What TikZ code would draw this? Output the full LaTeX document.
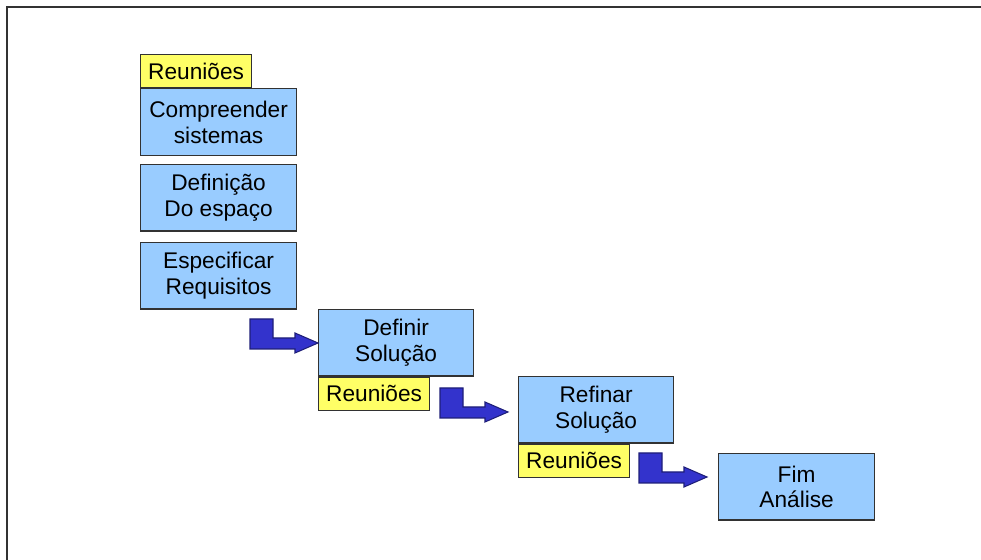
\documentclass[tikz,border=0pt]{standalone}
\usepackage{fontspec}
\setmainfont{Liberation Sans}
\usepackage{tikz}
\usetikzlibrary{arrows,positioning}
\definecolor{boxblue}{RGB}{153,204,255}
\definecolor{boxyellow}{RGB}{255,255,102}
\definecolor{arrowblue}{RGB}{51,51,204}
\definecolor{arrowedge}{RGB}{30,30,120}
\definecolor{edgegray}{RGB}{50,50,50}
\newcommand{\steparrow}[1]{\filldraw[barrow,shift={(#1)}] (0,0) -- (-23,-10) -- (-23,-5) -- (-45,-5) -- (-45,-24) -- (-68,-24) -- (-68,6) -- (-23,6) -- (-23,10) -- cycle;}

\begin{document}
\begin{tikzpicture}[x=0.02cm,y=-0.02cm]
\tikzstyle{bbox}=[rectangle,draw=edgegray,line width=0.7pt,fill=boxblue,anchor=north west,inner sep=0pt,
  minimum width=3.12cm,minimum height=1.33cm,align=center,font=\fontsize{12.9}{14.7}\selectfont]
\tikzstyle{rbox}=[bbox,fill=boxyellow,minimum width=2.22cm,minimum height=0.66cm]
\tikzstyle{barrow}=[fill=arrowblue,draw=arrowedge,line width=0.6pt,line join=miter]
\useasboundingbox (0,0) rectangle (981,560);
\draw[edgegray,line width=1.1pt] (7,560) -- (7,7) -- (981,7);
% first column
\node[rbox] (reu1) at (140,54) {Reuniões};
\node[bbox,below=0pt of reu1.south west,anchor=north west] (comp) {Compreender\\sistemas};
\node[bbox] (defesp) at (140,164) {Definição\\Do espaço};
\node[bbox] (espec) at (140,242) {Especificar\\Requisitos};
% steps
\node[bbox,minimum width=3.1cm] (defsol) at (318,309) {Definir\\Solução};
\node[rbox,anchor=north west] (reu2) at (defsol.south west) {Reuniões};
\node[bbox,minimum width=3.1cm] (refsol) at (518,376) {Refinar\\Solução};
\node[rbox,anchor=north west] (reu3) at (refsol.south west) {Reuniões};
\node[bbox] (fim) at (718,453) {Fim\\Análise};
\coordinate (a1) at (318,343);
\coordinate (a2) at (508,412);
\coordinate (a3) at (707,477);
\steparrow{a1}
\steparrow{a2}
\steparrow{a3}
\end{tikzpicture}
\end{document}
